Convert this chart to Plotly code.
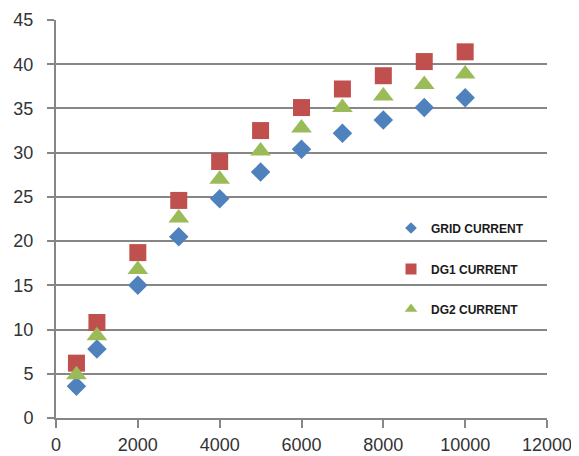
import plotly.graph_objects as go

x_vals = [500, 1000, 2000, 3000, 4000, 5000, 6000, 7000, 8000, 9000, 10000]
grid_current = [3.6, 7.8, 15.0, 20.5, 24.8, 27.8, 30.4, 32.2, 33.7, 35.1, 36.2]
dg1_current = [6.2, 10.8, 18.7, 24.6, 29.0, 32.5, 35.1, 37.2, 38.7, 40.3, 41.4]
dg2_current = [4.9, 9.3, 16.8, 22.6, 27.0, 30.2, 32.8, 35.1, 36.4, 37.7, 38.9]
series_names = ["GRID CURRENT", "DG1 CURRENT", "DG2 CURRENT"]

colors = ["#4F81BD", "#C0504D", "#9BBB59"]
symbols = ["diamond", "square", "triangle-up"]
sizes = [15, 17, 18]
legend_sizes = [9, 11, 11]
legend_ids = ["legend", "legend2", "legend3"]

fig = go.Figure()
for vals, name, c, s, sz, lsz, lid in zip(
    [grid_current, dg1_current, dg2_current], series_names, colors, symbols, sizes, legend_sizes, legend_ids
):
    fig.add_trace(go.Scatter(x=x_vals, y=vals, mode="markers", name=name, showlegend=False,
                             marker=dict(symbol=s, size=sz, color=c, line=dict(width=0))))
    fig.add_trace(go.Scatter(x=[None], y=[None], mode="markers", name=name, legend=lid,
                             marker=dict(symbol=s, size=lsz, color=c, line=dict(width=0))))

# page has an 8px body margin; target plot area on page: x 56..547, y 20..418
OFF = 8
W, H = 571, 448
L, R, T, B = 48, 32, 12, 38
pw, ph = W - L - R, H - T - B

def px2paper(px, py):
    return (px - OFF - L) / pw, (OFF + H - B - py) / ph

legend_common = dict(font=dict(family="Liberation Sans", size=12, color="#1a1a1a", weight="bold"),
                     bgcolor="rgba(0,0,0,0)", borderwidth=0, itemwidth=30,
                     xanchor="left", yanchor="middle", xref="paper", yref="paper")
text_x = 431
legend_layouts = {}
for lid, py in zip(legend_ids, [228, 269, 309]):
    lx, ly = px2paper(text_x - 40, py)
    legend_layouts[lid] = dict(x=lx, y=ly, **legend_common)

fig.update_layout(
    width=W, height=H,
    margin=dict(l=L, r=R, t=T, b=B, autoexpand=False),
    paper_bgcolor="white", plot_bgcolor="white",
    font=dict(family="Liberation Sans", size=18, color="#333333"),
    xaxis=dict(range=[0, 12000], dtick=2000, tick0=0, showgrid=False, tickformat="d",
               showline=True, linecolor="#868686", linewidth=2, automargin=False,
               ticks="outside", ticklen=8, tickcolor="#868686", tickwidth=2,
               zeroline=False, ticklabelstandoff=1),
    yaxis=dict(range=[0, 45], dtick=5, tick0=0, showgrid=True, gridcolor="#868686", gridwidth=2,
               showline=True, linecolor="#868686", linewidth=2, automargin=False,
               ticks="outside", ticklen=7, tickcolor="#868686", tickwidth=2,
               zeroline=False, ticklabelstandoff=10),
    **legend_layouts,
)

fig.write_html("out.html")
